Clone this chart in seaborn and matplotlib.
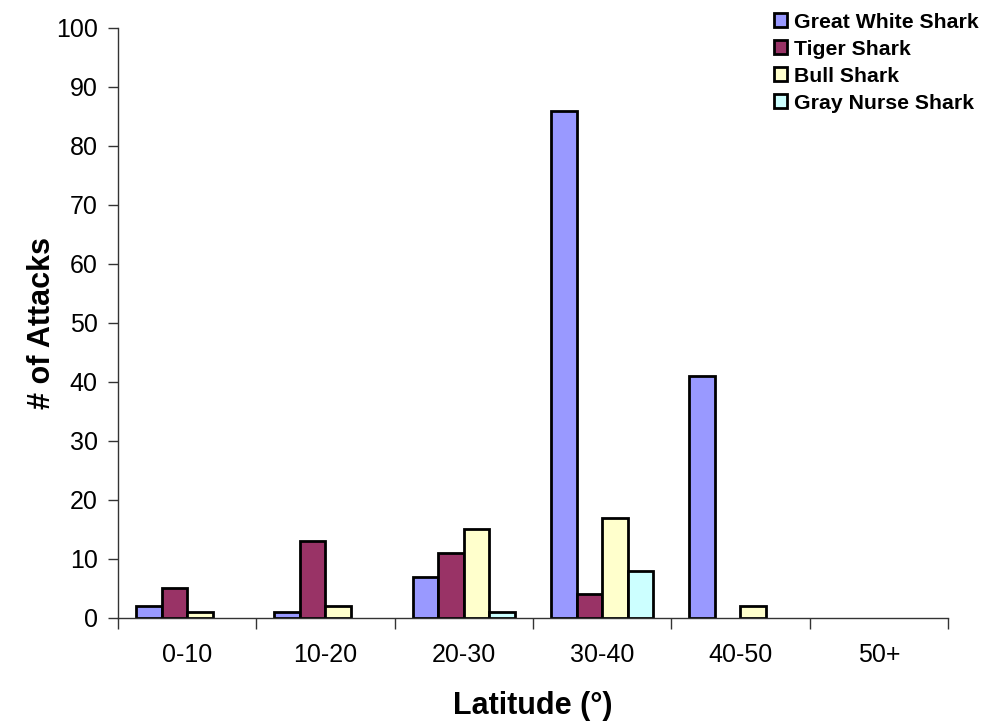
import matplotlib
matplotlib.use("Agg")
import matplotlib.pyplot as plt
import seaborn as sns
import pandas as pd
import numpy as np
from matplotlib.patches import Patch

categories = ["0-10", "10-20", "20-30", "30-40", "40-50", "50+"]
great_white = [2, 1, 7, 86, 41, 0]
tiger = [5, 13, 11, 4, 0, 0]
bull = [1, 2, 15, 17, 2, 0]
gray_nurse = [0, 0, 1, 8, 0, 0]
series_names = ["Great White Shark", "Tiger Shark", "Bull Shark", "Gray Nurse Shark"]
colors = ["#9999FF", "#993366", "#FFFFCC", "#CCFFFF"]

rows = []
for name, vals in zip(series_names, [great_white, tiger, bull, gray_nurse]):
    for c, v in zip(categories, vals):
        rows.append({"Latitude": c, "Attacks": v, "Species": name})
df = pd.DataFrame(rows)

sns.set_style("white")
plt.rcParams["font.family"] = ["Liberation Sans", "DejaVu Sans"]
plt.rcParams["text.color"] = "black"
plt.rcParams["axes.labelcolor"] = "black"
plt.rcParams["xtick.color"] = "black"
plt.rcParams["ytick.color"] = "black"

fig = plt.figure(figsize=(9.85, 7.27), dpi=100)
ax = fig.add_axes([0.1198, 0.150, 0.8426, 0.8115])

sns.barplot(data=df, x="Latitude", y="Attacks", hue="Species", order=categories,
            hue_order=series_names, palette=dict(zip(series_names, colors)),
            width=0.74, edgecolor="black", linewidth=2, saturation=1, ax=ax,
            legend=False, errorbar=None)

for p in ax.patches:
    if p.get_height() == 0:
        p.set_visible(False)

ax.set_xlim(-0.5, 5.5)
ax.set_ylim(0, 100)
ax.set_yticks(np.arange(0, 101, 10))
ax.tick_params(axis="y", labelsize=18, length=7, width=1, direction="out", left=True,
               color="#333333", labelcolor="black", pad=7.5)
ax.set_xticks(range(len(categories)))
ax.set_xticklabels(categories)
ax.set_xticks(np.arange(-0.5, 5.6, 1), minor=True)
ax.tick_params(axis="x", which="major", length=0, labelsize=18, pad=18, labelcolor="black")
ax.tick_params(axis="x", which="minor", length=8, width=1, direction="out", bottom=True, color="#333333")

for s in ["top", "right"]:
    ax.spines[s].set_visible(False)
for s in ["left", "bottom"]:
    ax.spines[s].set_color("#333333")
    ax.spines[s].set_linewidth(1)

ax.set_xlabel("Latitude (°)", fontsize=22, fontweight="bold", va="center")
ax.xaxis.set_label_coords(0.5, -0.149)
ax.set_ylabel("# of Attacks", fontsize=22, fontweight="bold", va="center")
ax.yaxis.set_label_coords(-0.092, 0.5)

handles = [Patch(facecolor=c, edgecolor="black", linewidth=2) for c in colors]
fig.legend(handles, series_names, loc="upper left", bbox_to_anchor=(0.771, 1.003),
           frameon=False, prop={"weight": "bold", "size": 15.3}, borderpad=0.2,
           handlelength=0.62, handleheight=0.62, handletextpad=0.3, labelspacing=0.375)

fig.savefig("out.png", dpi=100)
